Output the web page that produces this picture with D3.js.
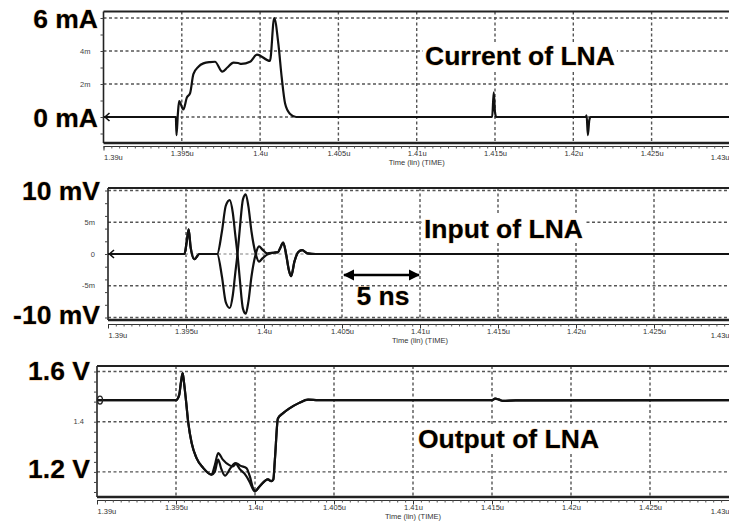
<!DOCTYPE html>
<html>
<head>
<meta charset="utf-8">
<script src="https://cdn.jsdelivr.net/npm/d3@7"></script>
<style>
body{margin:0;background:#fff;}
text{font-family:"Liberation Sans",Arial,sans-serif;}
</style>
</head>
<body>
<div id="chart"></div>
<script>

// time axis, ns (shared by the three panels)
const xTicks = [1390,1395,1400,1405,1410,1415,1420,1425,1430];
const xTickLabels = ["1.39u","1.395u","1.4u","1.405u","1.41u","1.415u","1.42u","1.425u","1.43u"];

// current of LNA (mA)
const currentT = [1390,1394.62,1394.66,1394.75,1394.83,1395.1,1395.32,1395.53,1395.74,1396.06,1396.38,1396.8,1397.12,1397.59,1397.91,1398.3,1398.6,1398.8,1399.36,1399.8,1400.63,1400.9,1401.17,1401.38,1401.6,1401.9,1402.3,1414.82,1414.92,1415.0,1415.08,1420.8,1420.85,1420.93,1421.02,1421.1,1430];
const currentI = [0,0,-1.1,0.2,0.96,0.46,1.17,1.45,2.6,3.05,3.25,3.33,3.35,2.75,3.0,3.3,3.27,3.22,3.35,3.78,3.4,6.0,4.4,2.4,0.8,0.2,0,0,1.5,0.3,0,0,0.1,-1.1,-0.2,0,0];

// input of LNA, two traces (mV)
const inputT = [1390,1394.9,1395.05,1395.17,1395.3,1395.54,1395.86,1397.0,1397.3,1397.55,1397.8,1398.0,1398.15,1398.3,1398.45,1398.65,1398.83,1399.0,1399.2,1399.47,1399.68,1399.9,1400.2,1400.6,1400.9,1401.05,1401.23,1401.4,1401.6,1401.74,1401.95,1402.2,1402.44,1402.8,1403.3,1430];
const inputA = [0,0,2.0,3.9,1.0,-0.8,0,0,3.5,7.6,8.5,6.5,3.2,0,-4.0,-8.6,-9.4,-7.5,-3.5,0,1.2,0.7,0.1,0.2,0.3,1.0,1.8,0.2,-2.6,-3.5,-1.2,0.3,0.6,0.1,0,0];
const inputB = [0,0,2.0,3.9,1.0,-0.8,0,0,-3.5,-7.6,-8.5,-6.5,-3.2,0,4.0,8.6,9.4,7.5,3.5,0,-1.2,-0.7,-0.1,0.2,0.3,1.0,1.8,0.2,-2.6,-3.5,-1.2,0.3,0.6,0.1,0,0];

// output of LNA, two traces (V)
const outputTA = [1390,1395.0,1395.2,1395.32,1395.42,1395.5,1395.63,1395.78,1395.99,1396.3,1396.72,1397.25,1397.45,1397.67,1397.95,1398.4,1398.6,1398.83,1399.1,1399.46,1399.66,1399.9,1400.0,1400.3,1400.82,1401.03,1401.16,1401.26,1401.45,1401.76,1402.18,1402.8,1403.36,1404,1415.0,1415.2,1415.45,1415.7,1416.5,1430];
const outputA = [1.486,1.486,1.506,1.56,1.594,1.56,1.486,1.394,1.315,1.255,1.216,1.189,1.225,1.275,1.25,1.226,1.222,1.234,1.224,1.215,1.185,1.132,1.124,1.143,1.17,1.163,1.17,1.25,1.413,1.433,1.453,1.475,1.488,1.486,1.486,1.492,1.488,1.483,1.485,1.486];
const outputTB = [1390,1395.0,1395.2,1395.32,1395.42,1395.5,1395.63,1395.78,1395.99,1396.3,1396.72,1397.25,1397.45,1397.67,1397.85,1398.1,1398.45,1398.75,1399.05,1399.35,1399.66,1399.9,1400.0,1400.3,1400.82,1401.03,1401.16,1401.26,1401.45,1401.76,1402.18,1402.8,1403.36,1404,1415.0,1415.2,1415.45,1415.7,1416.5,1430];
const outputB = [1.486,1.486,1.506,1.56,1.594,1.56,1.486,1.394,1.315,1.255,1.216,1.189,1.2,1.249,1.215,1.185,1.215,1.235,1.21,1.192,1.16,1.128,1.122,1.143,1.17,1.163,1.17,1.25,1.413,1.433,1.453,1.475,1.488,1.486,1.486,1.492,1.488,1.483,1.485,1.486];

// y labels
const curSmallTicks = [4,2], curSmallLabels = ["4m","2m"];
const curBigTicks = [6,0], curBigLabels = ["6 mA","0 mA"];
const inSmallTicks = [5,0,-5], inSmallLabels = ["5m","0","-5m"];
const inBigTicks = [10,-10], inBigLabels = ["10 mV","-10 mV"];
const outSmallTicks = [1.4], outSmallLabels = ["1.4"];
const outBigTicks = [1.6,1.2], outBigLabels = ["1.6 V","1.2 V"];

const W = 729, H = 527;

const svg = d3.select("#chart")
.append("svg")
.attr("width", W)
.attr("height", H)
.style("background", "#fff");

const defs = svg.append("defs");

defs.append("marker")
.attr("id","arrow")
.attr("viewBox","0 0 10 10")
.attr("refX",9).attr("refY",5)
.attr("markerWidth",4.5).attr("markerHeight",4.5)
.attr("orient","auto-start-reverse")
.append("path")
.attr("d","M0,0 L10,5 L0,10 Z")
.attr("fill","#000");


// big bold text with the faint orange fringe of the original
function bold(sel){
return sel
.attr("fill","#000")
.attr("stroke","#f0a23c")
.attr("stroke-width",1)
.attr("stroke-opacity",0.55)
.attr("paint-order","stroke")
.style("font-size","26.5px")
.style("font-weight","bold");
}


function drawPanel(p, idx){

const g = svg.append("g");

const x = d3.scaleLinear()
.domain([1390,1395])
.range([p.left, p.left + p.step]);

const y = d3.scaleLinear()
.domain([p.yA[0], p.yB[0]])
.range([p.yA[1], p.yB[1]]);

const right = W;

// clip
defs.append("clipPath")
.attr("id","clip"+idx)
.append("rect")
.attr("x",p.left).attr("y",p.top)
.attr("width",right-p.left).attr("height",p.bottom-p.top);

// grid
g.selectAll(".vgrid")
.data(xTicks.filter(d=>d>1390 && d<1430))
.enter()
.append("line")
.attr("x1",d=>x(d)).attr("x2",d=>x(d))
.attr("y1",p.top).attr("y2",p.bottom)
.attr("stroke","#555")
.attr("stroke-width",1.4)
.attr("stroke-dasharray","3,2.5");

g.selectAll(".hgrid")
.data(p.grid)
.enter()
.append("line")
.attr("x1",p.left).attr("x2",right)
.attr("y1",d=>y(d)).attr("y2",d=>y(d))
.attr("stroke",d=>d===0 && idx===1 ? "#aaa" : "#555")
.attr("stroke-width",1.4)
.attr("stroke-dasharray","3,2.5");

// frame
g.append("line")
.attr("x1",p.left).attr("x2",right)
.attr("y1",p.top).attr("y2",p.top)
.attr("stroke","#222").attr("stroke-width",2.2);

g.append("line")
.attr("x1",p.left).attr("x2",right)
.attr("y1",p.bottom).attr("y2",p.bottom)
.attr("stroke","#222").attr("stroke-width",2.6);

// y axis (minor ticks only)
g.append("g")
.attr("transform","translate("+p.left+",0)")
.call(
d3.axisLeft(y)
.tickValues(d3.range(p.yMinor[0], p.yMinor[1]+1e-9, p.yMinor[2]))
.tickSize(3)
.tickFormat("")
)
.call(a=>a.select(".domain").attr("d","M0,"+p.top+"V"+p.bottom).attr("stroke","#222").attr("stroke-width",1.6))
.call(a=>a.selectAll(".tick line").attr("stroke","#444"));

// x axis
g.append("g")
.attr("transform","translate(0,"+p.axisY+")")
.call(
d3.axisBottom(x)
.tickValues(d3.range(1390,1430.01,0.5))
.tickSize(2)
.tickFormat("")
)
.call(a=>a.select(".domain").attr("d","M"+p.left+",0H"+right).attr("stroke","#333"))
.call(a=>a.selectAll(".tick line").attr("stroke","#555"));

g.append("g")
.attr("transform","translate(0,"+p.axisY+")")
.call(
d3.axisBottom(x)
.tickValues(xTicks)
.tickSize(4)
.tickFormat((d,i)=>xTickLabels[i])
)
.call(a=>a.select(".domain").remove())
.call(a=>a.selectAll(".tick line").attr("stroke","#333"))
.call(a=>a.selectAll(".tick text")
.attr("fill","#333")
.style("font-size","7.5px")
.attr("y",p.labelDy)
.attr("text-anchor",(d,i)=>i===0 ? "start" : (i===xTicks.length-1 ? "end" : "middle"))
.attr("dy",(d,i)=>(i===0||i===xTicks.length-1) ? "1.2em" : "0.71em")
.attr("dx",(d,i)=>i===xTicks.length-1 ? (right - x(1430)) : 0));

g.append("text")
.attr("x",x(1410))
.attr("y",p.axisY+p.labelDy+14)
.attr("text-anchor","middle")
.attr("fill","#333")
.style("font-size","7.5px")
.text("Time (lin) (TIME)");

// small y labels
g.selectAll(".ysmall")
.data(p.smallTicks)
.enter()
.append("text")
.attr("x",p.left-13)
.attr("y",d=>y(d))
.attr("dy","0.35em")
.attr("text-anchor","end")
.attr("fill","#444")
.style("font-size","7.5px")
.text((d,i)=>p.smallLabels[i]);

// big y labels
g.selectAll(".ybig")
.data(p.bigTicks)
.enter()
.append("text")
.attr("x",p.bigX)
.attr("y",(d,i)=>y(d)+p.bigDy[i])
.attr("dy","0.36em")
.attr("text-anchor","end")
.call(bold)
.text((d,i)=>p.bigLabels[i]);

// title label with white box
const tg = g.append("g");
const tt = tg.append("text")
.attr("x",p.titleX)
.attr("y",p.titleY)
.call(bold)
.text(p.title);
const bb = tt.node().getBBox();
tg.insert("rect","text")
.attr("x",bb.x-2).attr("y",bb.y+1)
.attr("width",bb.width+4).attr("height",bb.height-2)
.attr("fill","#fff");

// traces
const line = d3.line()
.x(d=>x(d[0]))
.y(d=>y(d[1]))
.curve(d3.curveMonotoneX);

const tr = g.append("g").attr("clip-path","url(#clip"+idx+")");

p.series.forEach(s=>{
tr.append("path")
.datum(s[0].map((t,i)=>[t,s[1][i]]))
.attr("d",line)
.attr("fill","none")
.attr("stroke","#111")
.attr("stroke-width",2.2)
.attr("stroke-linejoin","round");
});

// start marker on the left
const y0 = y(p.series[0][1][0]);
if(p.marker==="arrow"){
g.append("path")
.attr("d","M"+(p.left+6)+","+(y0-4)+"L"+(p.left+1.5)+","+y0+"L"+(p.left+6)+","+(y0+4))
.attr("fill","none")
.attr("stroke","#111")
.attr("stroke-width",1.6);
}else{
g.append("ellipse")
.attr("cx",p.left+3).attr("cy",y0)
.attr("rx",2.5).attr("ry",4)
.attr("fill","none")
.attr("stroke","#222")
.attr("stroke-width",1.4);
}

return x;
}


drawPanel({
left:103.5, step:78.3, top:11.5, bottom:143, axisY:146.5, labelDy:4,
yA:[0,117], yB:[6,18],
grid:[6,4,2,0], yMinor:[-1,6,1],
smallTicks:curSmallTicks, smallLabels:curSmallLabels,
bigTicks:curBigTicks, bigLabels:curBigLabels, bigX:98, bigDy:[0,0],
title:"Current of LNA", titleX:425, titleY:65,
series:[[currentT,currentI]], marker:"arrow"
},0);

const x2 = drawPanel({
left:108, step:78, top:188, bottom:320, axisY:324.5, labelDy:4,
yA:[0,254], yB:[10,190.5],
grid:[10,5,0,-5,-10], yMinor:[-10,10,2],
smallTicks:inSmallTicks, smallLabels:inSmallLabels,
bigTicks:inBigTicks, bigLabels:inBigLabels, bigX:100, bigDy:[0,-3],
title:"Input of LNA", titleX:424, titleY:238,
series:[[inputT,inputA],[inputT,inputB]], marker:"arrow"
},1);

drawPanel({
left:97, step:79, top:366, bottom:497, axisY:500.5, labelDy:4,
yA:[1.4,421.7], yB:[1.6,371.5],
grid:[1.6,1.4,1.2], yMinor:[1.12,1.6,0.04],
smallTicks:outSmallTicks, smallLabels:outSmallLabels,
bigTicks:outBigTicks, bigLabels:outBigLabels, bigX:90, bigDy:[-1,-3],
title:"Output of LNA", titleX:418, titleY:448,
series:[[outputTA,outputA],[outputTB,outputB]], marker:"ring"
},2);

// 5 ns span annotation in the input panel
svg.append("line")
.attr("x1",x2(1405)+2).attr("x2",x2(1410)-1)
.attr("y1",275).attr("y2",275)
.attr("stroke","#000")
.attr("stroke-width",2.5)
.attr("marker-start","url(#arrow)")
.attr("marker-end","url(#arrow)");

svg.append("text")
.attr("x",(x2(1405)+x2(1410))/2+2)
.attr("y",305)
.attr("text-anchor","middle")
.call(bold)
.text("5 ns");

</script>
</body>
</html>
